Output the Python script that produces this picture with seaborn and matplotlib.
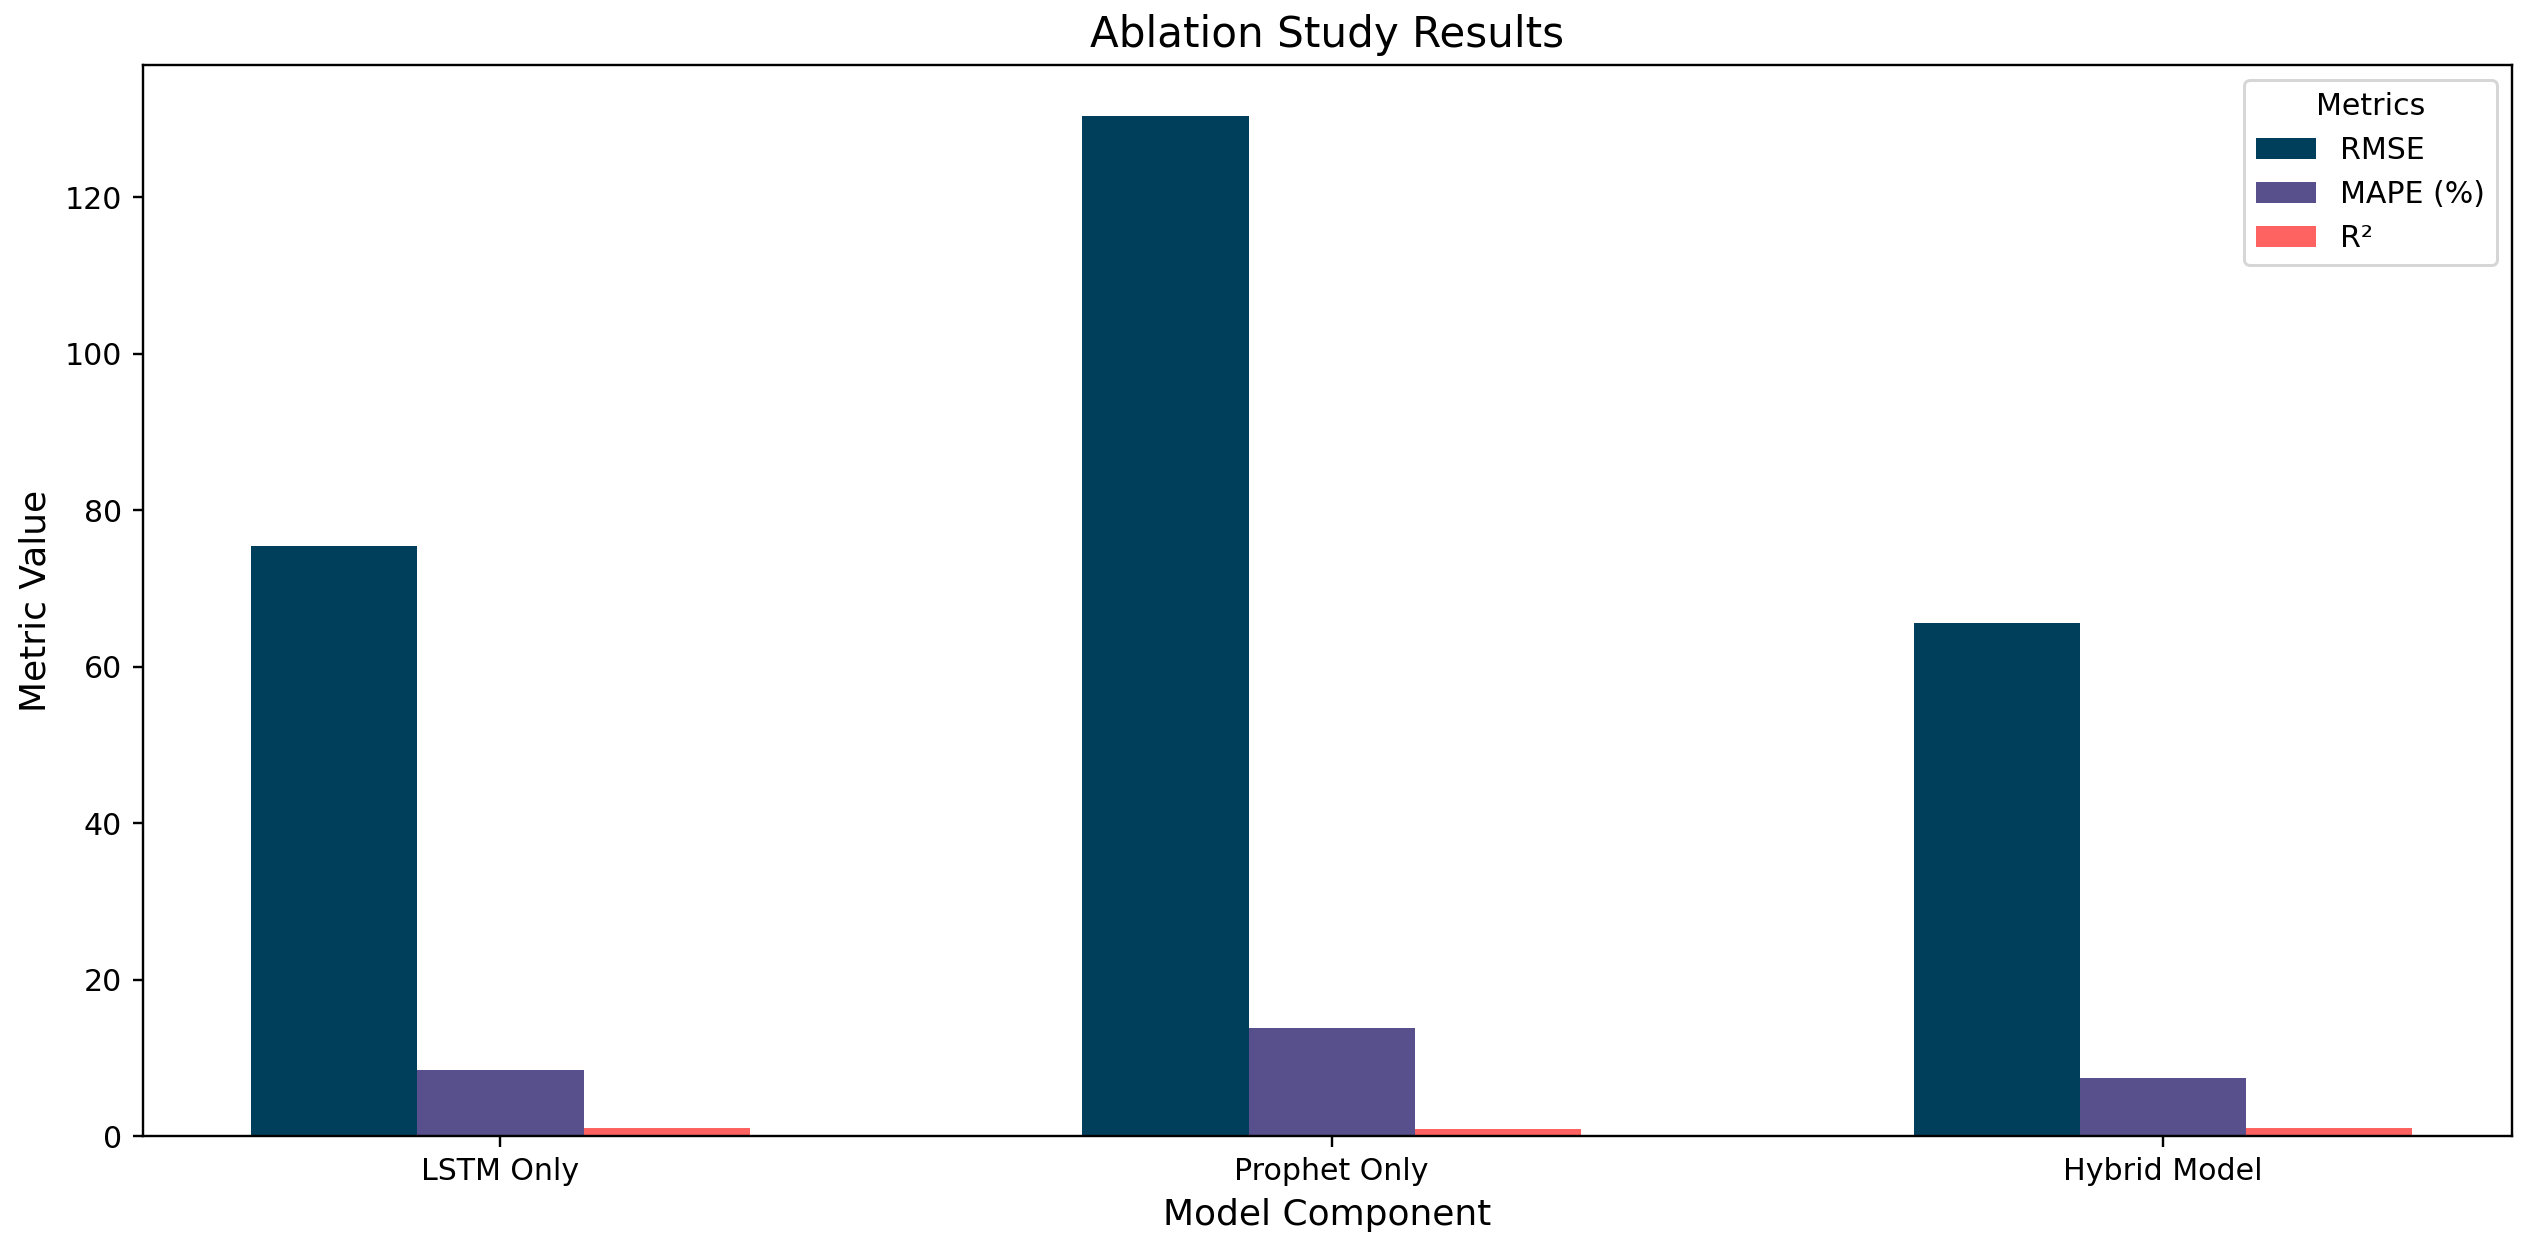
import matplotlib
matplotlib.use("Agg")
import matplotlib.pyplot as plt
import seaborn as sns
import pandas as pd

models = ["LSTM Only", "Prophet Only", "Hybrid Model"]
metrics = ["RMSE", "MAPE (%)", "R²"]
rmse = [75.4, 130.4, 65.6]
mape = [8.5, 13.8, 7.4]
r2 = [0.98, 0.85, 0.99]
colors = ["#003f5c", "#58508d", "#ff6361"]

rows = []
for name, vals in zip(metrics, [rmse, mape, r2]):
    for m, v in zip(models, vals):
        rows.append({"Model": m, "Metric": name, "Value": v})
df = pd.DataFrame(rows)

plt.rcParams["font.family"] = ["DejaVu Sans"]

fig = plt.figure(figsize=(2545 / 216, 1260 / 216), dpi=216)
ax = fig.add_axes([143 / 2545, 1 - 1136 / 1260, (2512 - 143) / 2545, (1136 - 65) / 1260])

sns.barplot(data=df, x="Model", y="Value", hue="Metric", order=models,
            hue_order=metrics, palette=colors, width=0.6, saturation=1,
            errorbar=None, linewidth=0, ax=ax)

ax.set_xlim(-0.43, 2.42)
ax.set_title("Ablation Study Results", fontsize=14)
ax.set_xlabel("Model Component", fontsize=12)
ax.set_ylabel("Metric Value", fontsize=12)
ax.tick_params(labelsize=10)
ax.legend(title="Metrics", loc="upper right", fontsize=10, title_fontsize=10)

fig.savefig("out.png", dpi=216)
